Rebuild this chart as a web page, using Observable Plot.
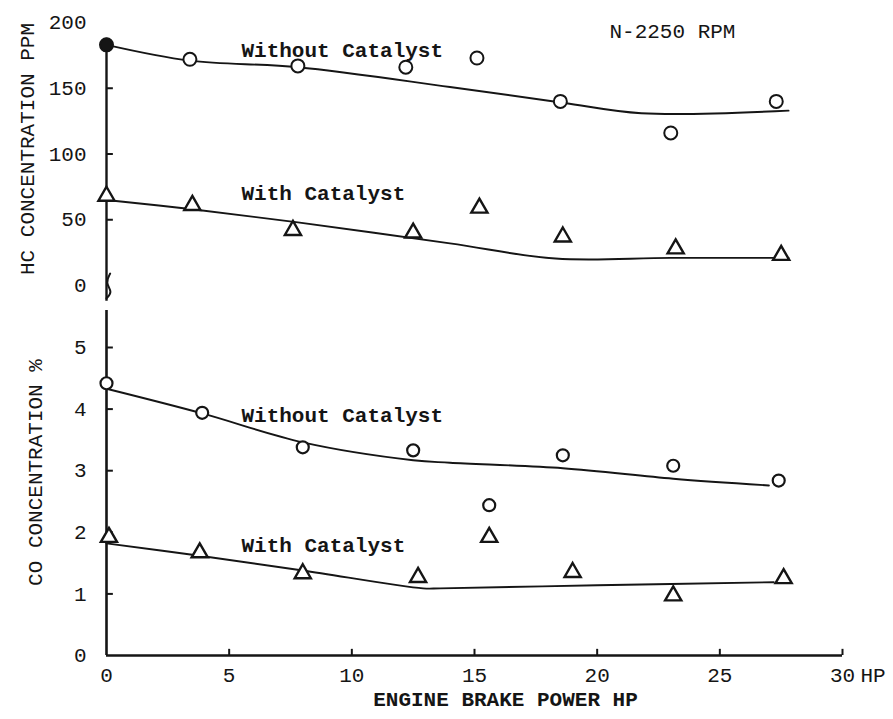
<!DOCTYPE html>
<html><head><meta charset="utf-8">
<script src="https://cdn.jsdelivr.net/npm/d3@7"></script>
<script src="https://cdn.jsdelivr.net/npm/@observablehq/plot@0.6"></script>
<style>
body{margin:0;background:#fff;}
#chart{position:relative;width:893px;height:719px;background:#fff;}
#chart svg{position:absolute;left:0;}
</style></head><body><div id="chart"></div>
<script>
// ---- HC concentration (ppm) ----
const hcWithoutX = [0, 3.4, 7.8, 12.2, 15.1, 18.5, 23.0, 27.3];
const hcWithout  = [183, 172, 167, 166, 173, 140, 116, 140];
const hcWithX    = [0, 3.5, 7.6, 12.5, 15.2, 18.6, 23.2, 27.5];
const hcWith     = [68, 61, 42, 40, 59, 37, 28, 23];
const hcWithoutFitX = [0, 3.4, 7.8, 14.0, 18.6, 21.8, 27.8];
const hcWithoutFit  = [183, 171, 166, 151, 139, 131, 133];
const hcWithFitX = [0, 3.5, 7.8, 14.0, 18.3, 23.0, 27.8];
const hcWithFit  = [65, 58, 48, 32, 20.5, 21, 21];
// ---- CO concentration (%) ----
const coWithoutX = [0, 3.9, 8.0, 12.5, 15.6, 18.6, 23.1, 27.4];
const coWithout  = [4.42, 3.94, 3.38, 3.33, 2.44, 3.25, 3.08, 2.84];
const coWithX    = [0.1, 3.8, 8.0, 12.7, 15.6, 19.0, 23.1, 27.6];
const coWith     = [1.92, 1.67, 1.33, 1.27, 1.92, 1.35, 0.97, 1.25];
const coWithoutFitX = [0, 3.9, 8.0, 12.5, 14.0, 18.6, 23.1, 27.0];
const coWithoutFit  = [4.33, 3.93, 3.46, 3.17, 3.13, 3.04, 2.87, 2.76];
const coWithFitX = [0, 3.8, 8.0, 12.9, 13.6, 20.0, 27.2];
const coWithFit  = [1.82, 1.62, 1.38, 1.09, 1.09, 1.14, 1.19];
// ---- ticks / labels ----
const xTicks = [0, 5, 10, 15, 20, 25, 30];
const hcTicks = [0, 50, 100, 150, 200];
const coTicks = [0, 1, 2, 3, 4, 5];
const xTitle = "ENGINE BRAKE POWER HP";
const hcTitle = "HC CONCENTRATION PPM";
const coTitle = "CO CONCENTRATION %";
const rpmNote = "N-2250 RPM";

const zip = (xs, ys) => xs.map((x, i) => ({x, y: ys[i], i}));
const ink = "#151515";
const font = {fontFamily: "'Liberation Mono', 'DejaVu Sans Mono', monospace", fontSize: "21px", background: "transparent", overflow: "visible"};

const hc = Plot.plot({
  width: 893, height: 300,
  marginLeft: 106, marginRight: 51, marginTop: 22, marginBottom: 15,
  x: {domain: [0, 30], axis: null},
  y: {domain: [0, 200], axis: null},
  style: font,
  marks: [
    Plot.ruleX([0], {y1: -12, y2: 188, stroke: ink, strokeWidth: 2.4}),
    Plot.ruleY(hcTicks.filter(d => d > 0 && d < 200), {x1: 0, x2: 0.28, stroke: ink, strokeWidth: 2}),
    Plot.axisY({ticks: hcTicks, tickSize: 0, tickPadding: 20, fill: ink, label: null, tickFormat: d3.format("d")}),
    Plot.line(zip(hcWithoutFitX, hcWithoutFit), {x: "x", y: "y", curve: "catmull-rom", stroke: ink, strokeWidth: 1.9}),
    Plot.line(zip(hcWithFitX, hcWithFit), {x: "x", y: "y", curve: "catmull-rom", stroke: ink, strokeWidth: 1.9}),
    Plot.dot(zip(hcWithoutX, hcWithout), {x: "x", y: "y", symbol: "circle", r: 6.5, stroke: ink, strokeWidth: 2, fill: d => d.i === 0 ? ink : "white"}),
    Plot.dot(zip(hcWithX, hcWith), {x: "x", y: "y", symbol: "triangle", r: 6, stroke: ink, strokeWidth: 2.4, fill: "white"}),
    Plot.text(["Without Catalyst"], {x: () => 5.5, y: () => 179, textAnchor: "start", fontWeight: "bold", fill: ink}),
    Plot.text(["With Catalyst"], {x: () => 5.5, y: () => 70, textAnchor: "start", fontWeight: "bold", fill: ink}),
    Plot.text([rpmNote], {x: () => 20.5, y: () => 193, textAnchor: "start", fill: ink}),
    Plot.text([hcTitle], {frameAnchor: "left", textAnchor: "middle", rotate: -90, dx: -79, dy: -5, fill: ink})
  ]
});
hc.style.top = "0px";

const co = Plot.plot({
  width: 893, height: 419,
  marginLeft: 106, marginRight: 51, marginTop: 47, marginBottom: 64,
  x: {domain: [0, 30], axis: null},
  y: {domain: [0, 5], axis: null},
  style: font,
  marks: [
    Plot.ruleX([0], {y1: 0, y2: 5.6, stroke: ink, strokeWidth: 2.6}),
    Plot.line([{x: 0, y: 5.8}, {x: 0.25, y: 5.9}, {x: -0.05, y: 6.05}, {x: 0.15, y: 6.2}], {x: "x", y: "y", curve: "basis", stroke: ink, strokeWidth: 2}),
    Plot.ruleY([0], {x1: 0, x2: 30, stroke: ink, strokeWidth: 2.4}),
    Plot.ruleY(coTicks.filter(d => d > 0), {x1: 0, x2: 0.28, stroke: ink, strokeWidth: 2}),
    Plot.ruleX(xTicks.filter(d => d > 0), {y1: 0, y2: 0.1, stroke: ink, strokeWidth: 2}),
    Plot.axisY({ticks: coTicks, tickSize: 0, tickPadding: 20, fill: ink, label: null, tickFormat: d3.format("d")}),
    Plot.axisX({ticks: xTicks, tickSize: 0, tickPadding: 12, fill: ink, label: null, tickFormat: d3.format("d")}),
    Plot.text(["HP"], {x: () => 30, y: () => 0, dx: 18, dy: 12, lineAnchor: "top", textAnchor: "start", fill: ink}),
    Plot.line(zip(coWithoutFitX, coWithoutFit), {x: "x", y: "y", curve: "catmull-rom", stroke: ink, strokeWidth: 1.9}),
    Plot.line(zip(coWithFitX, coWithFit), {x: "x", y: "y", curve: "catmull-rom", stroke: ink, strokeWidth: 1.9}),
    Plot.dot(zip(coWithoutX, coWithout), {x: "x", y: "y", symbol: "circle", r: 6, stroke: ink, strokeWidth: 2.2, fill: "white"}),
    Plot.dot(zip(coWithX, coWith), {x: "x", y: "y", symbol: "triangle", r: 6, stroke: ink, strokeWidth: 2.4, fill: "white"}),
    Plot.text(["Without Catalyst"], {x: () => 5.5, y: () => 3.9, textAnchor: "start", fontWeight: "bold", fill: ink}),
    Plot.text(["With Catalyst"], {x: () => 5.5, y: () => 1.79, textAnchor: "start", fontWeight: "bold", fill: ink}),
    Plot.text([coTitle], {frameAnchor: "left", textAnchor: "middle", rotate: -90, dx: -71, dy: -29, fill: ink}),
    Plot.text([xTitle], {frameAnchor: "bottom", dx: 31, dy: 50, fontWeight: "bold", fill: ink})
  ]
});
co.style.top = "300px";

const root = document.getElementById("chart");
root.appendChild(hc);
root.appendChild(co);
</script></body></html>
